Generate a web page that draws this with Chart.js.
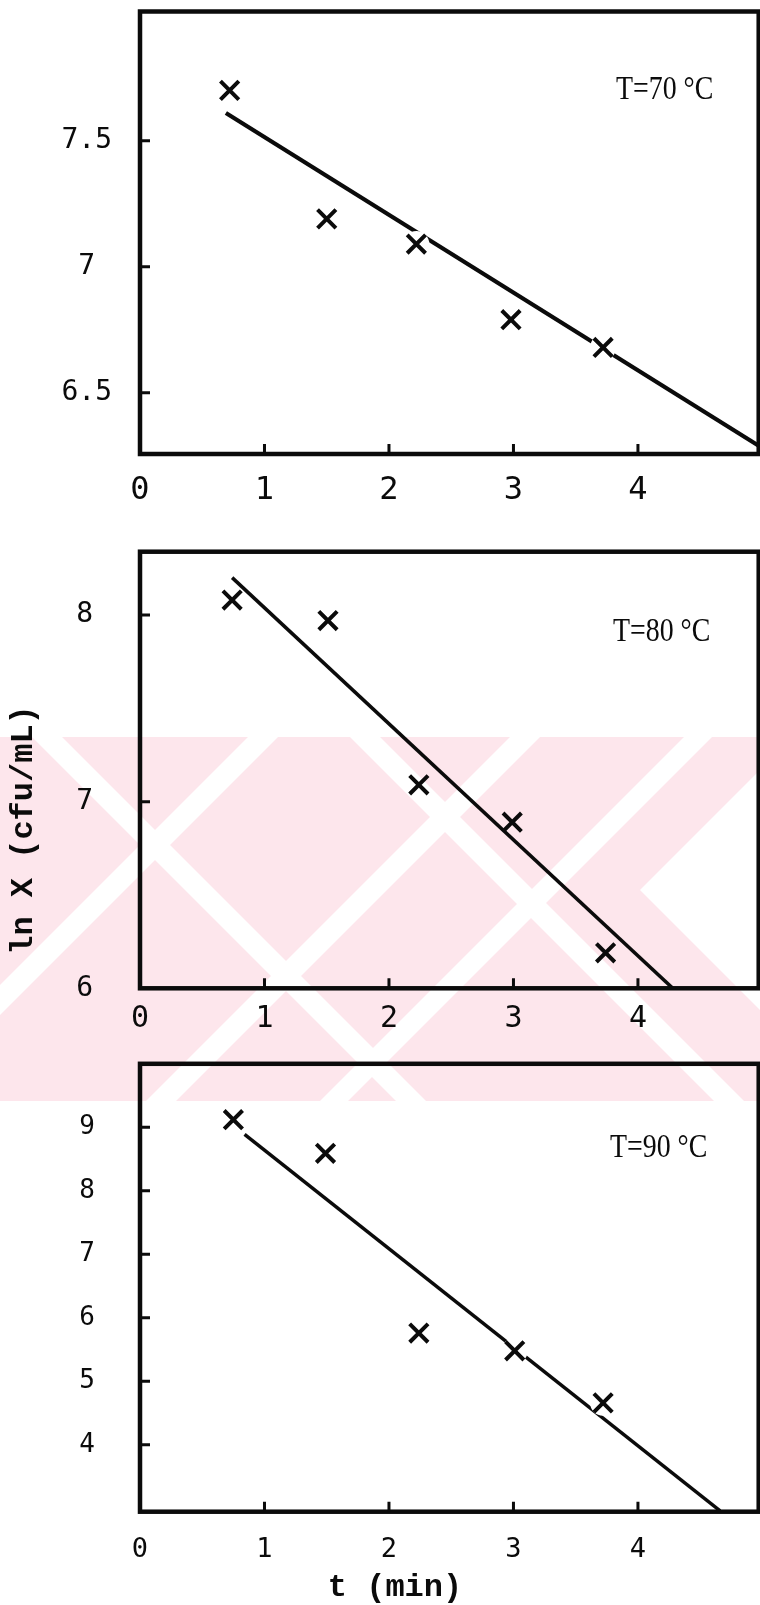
<!DOCTYPE html>
<html>
<head>
<meta charset="utf-8">
<script src="https://cdn.jsdelivr.net/npm/chart.js@4.4.0/dist/chart.umd.min.js"></script>
<style>
    html, body { margin: 0; padding: 0; background: #fff; }
    #page { position: relative; width: 760px; height: 1605px; overflow: hidden; }
    #page canvas { position: absolute; left: 0; }
</style>
</head>
<body>
<div id="page">
    <canvas id="filigrane" width="760" height="1605" style="top:0"></canvas>
    <canvas id="graph70" width="760" height="520" style="top:0"></canvas>
    <canvas id="graph80" width="760" height="520" style="top:520px"></canvas>
    <canvas id="graph90" width="760" height="565" style="top:1040px"></canvas>
</div>
<script>
// temps de traitement (min) et ln X (cfu/mL) mesurés
const T_70 = [0.72, 1.50, 2.22, 2.98, 3.72];
const LNX_70 = [7.70, 7.19, 7.09, 6.79, 6.68];
const T_80 = [0.74, 1.51, 2.24, 2.99, 3.74];
const LNX_80 = [8.08, 7.97, 7.09, 6.89, 6.19];
const T_90 = [0.75, 1.49, 2.24, 3.01, 3.72];
const LNX_90 = [9.12, 8.59, 5.76, 5.48, 4.66];

// droites ajustées (extrémités)
const DROITE_T_70 = [0.69, 4.97];
const DROITE_LNX_70 = [7.61, 6.29];
const DROITE_T_80 = [0.74, 4.28];
const DROITE_LNX_80 = [8.20, 6.00];
const DROITE_T_90 = [0.84, 4.66];
const DROITE_LNX_90 = [8.89, 2.96];

// points où la droite est interrompue autour de la croix (indices)
const COUPURES_70 = [2, 4];
const COUPURES_80 = [];
const COUPURES_90 = [3, 4];

// graduations
const TICKS_T = [0, 1, 2, 3, 4];
const TICKS_70 = [6.5, 7, 7.5];
const TICKS_80 = [6, 7, 8];
const TICKS_90 = [4, 5, 6, 7, 8, 9];

const LABEL_70 = 'T=70 °C';
const LABEL_80 = 'T=80 °C';
const LABEL_90 = 'T=90 °C';
const TITRE_Y = 'ln X (cfu/mL)';
const TITRE_X = 't (min)';

const ENCRE = '#0b0b0b';
const MONO = '"DejaVu Sans Mono", "Liberation Mono", monospace';

function points(xs, ys) {
    return xs.map((x, i) => ({x: x, y: ys[i]}));
}

// pas de marge automatique autour des axes : la zone du graphe est fixée à la main
function sansMarge(s) {
    s.paddingTop = 0;
    s.paddingBottom = 0;
    s.paddingLeft = 0;
    s.paddingRight = 0;
}

// cadre noir + petites graduations vers l'intérieur + textes
const cadre = {
    id: 'cadre',
    afterDatasetsDraw(chart, args, opts) {
        const ctx = chart.ctx;
        const a = chart.chartArea;
        const sx = chart.scales.x;
        const sy = chart.scales.y;
        ctx.save();
        ctx.strokeStyle = ENCRE;
        ctx.lineWidth = 4.5;
        ctx.strokeRect(a.left, a.top, a.right - a.left, a.bottom - a.top);

        ctx.lineWidth = 3;
        ctx.beginPath();
        for (const t of sx.ticks) {
            if (t.value <= sx.min) continue;
            const px = sx.getPixelForValue(t.value);
            ctx.moveTo(px, a.bottom);
            ctx.lineTo(px, a.bottom - 10);
        }
        for (const t of sy.ticks) {
            if (t.value <= sy.min) continue;
            const py = sy.getPixelForValue(t.value);
            ctx.moveTo(a.left, py);
            ctx.lineTo(a.left + 10, py);
        }
        ctx.stroke();

        // étiquette de température, police serrée
        ctx.fillStyle = ENCRE;
        ctx.font = '34px "Liberation Serif", "DejaVu Serif", serif';
        ctx.textBaseline = 'alphabetic';
        ctx.textAlign = 'left';
        ctx.save();
        ctx.translate(opts.lx, a.top + opts.ly);
        ctx.scale(0.82, 1);
        ctx.fillText(opts.label, 0, 0);
        ctx.restore();

        for (const t of (opts.textes || [])) {
            ctx.save();
            ctx.font = 'bold 32px "Liberation Mono", "DejaVu Sans Mono", monospace';
            ctx.textAlign = 'center';
            ctx.textBaseline = 'middle';
            ctx.translate(t.x, t.y);
            ctx.rotate(t.rot || 0);
            ctx.fillText(t.texte, 0, 0);
            ctx.restore();
        }
        ctx.restore();
    }
};

function loadPanel(id, p) {
    const ctx = document.getElementById(id).getContext('2d');
    const coupes = p.coupures.map(i => ({x: p.t[i], y: p.lnx[i]}));
    return new Chart(ctx, {
        type: 'scatter',
        data: {
            datasets: [{
                label: 'mesures',
                data: points(p.t, p.lnx),
                pointStyle: 'crossRot',
                pointRadius: 13,
                pointBorderWidth: 4,
                pointBorderColor: ENCRE,
                borderColor: ENCRE,
                showLine: false,
                order: 1
            }, {
                // pastille blanche qui coupe la droite sous la croix
                label: 'coupure',
                data: coupes,
                pointStyle: 'circle',
                pointRadius: 13,
                pointBorderWidth: 0,
                pointBackgroundColor: '#ffffff',
                showLine: false,
                order: 2
            }, {
                label: 'droite',
                data: points(p.dt, p.dlnx),
                showLine: true,
                borderColor: ENCRE,
                borderWidth: p.epaisseur,
                pointRadius: 0,
                order: 3
            }]
        },
        options: {
            responsive: false,
            animation: false,
            layout: {autoPadding: false, padding: {top: p.haut, right: 1.3, left: 0, bottom: 0}},
            plugins: {
                legend: {display: false},
                tooltip: {enabled: false},
                cadre: {label: p.label, lx: p.lx, ly: p.ly, textes: p.textes}
            },
            scales: {
                x: {
                    type: 'linear',
                    min: 0,
                    max: 4.97,
                    grid: {display: false, drawTicks: false},
                    border: {display: false},
                    afterBuildTicks: s => { s.ticks = TICKS_T.map(v => ({value: v})); },
                    afterFit: s => { s.height = p.basAxe; sansMarge(s); },
                    ticks: {
                        color: ENCRE,
                        font: {family: MONO, size: p.policeX},
                        padding: p.padX,
                        autoSkip: false,
                        maxRotation: 0,
                        callback: v => String(v)
                    }
                },
                y: {
                    type: 'linear',
                    min: p.ymin,
                    max: p.ymax,
                    grid: {display: false, drawTicks: false},
                    border: {display: false},
                    afterBuildTicks: s => { s.ticks = p.ticks.map(v => ({value: v})); },
                    afterFit: s => { s.width = 140; sansMarge(s); },
                    ticks: {
                        color: ENCRE,
                        font: {family: MONO, size: p.policeY},
                        padding: p.padY,
                        crossAlign: 'center',
                        autoSkip: false,
                        callback: v => String(v)
                    }
                }
            }
        },
        plugins: [cadre]
    });
}

// filigrane rose en fond
function dessinerFiligrane() {
    const ctx = document.getElementById('filigrane').getContext('2d');
    const haut = 737, bas = 1101;
    ctx.fillStyle = '#fde6ec';
    ctx.fillRect(0, haut, 760, bas - haut);
    ctx.save();
    ctx.beginPath();
    ctx.rect(0, haut, 760, bas - haut);
    ctx.clip();
    ctx.fillStyle = '#ffffff';
    // bandes montantes « / » : x + y = c
    for (const [c, w] of [[1000, 15], [1262, 15], [1435, 14]]) {
        ctx.beginPath();
        ctx.moveTo(c - w - haut, haut);
        ctx.lineTo(c + w - haut, haut);
        ctx.lineTo(c + w - bas, bas);
        ctx.lineTo(c - w - bas, bas);
        ctx.fill();
    }
    // bandes descendantes « \ » : x - y = d
    for (const [d, w] of [[-690, 15], [-372, 15]]) {
        ctx.beginPath();
        ctx.moveTo(d - w + haut, haut);
        ctx.lineTo(d + w + haut, haut);
        ctx.lineTo(d + w + bas, bas);
        ctx.lineTo(d - w + bas, bas);
        ctx.fill();
    }
    // coin blanc à droite
    ctx.beginPath();
    ctx.moveTo(640, 890);
    ctx.lineTo(800, 730);
    ctx.lineTo(800, 1050);
    ctx.closePath();
    ctx.fill();
    ctx.restore();
}

dessinerFiligrane();

loadPanel('graph70', {
    t: T_70, lnx: LNX_70, dt: DROITE_T_70, dlnx: DROITE_LNX_70, epaisseur: 4.2,
    coupures: COUPURES_70,
    ymin: 6.257, ymax: 8.013, ticks: TICKS_70, haut: 11.5, basAxe: 66,
    policeX: 32, padX: 17, policeY: 28, padY: 28,
    label: LABEL_70, lx: 616, ly: 87
});

loadPanel('graph80', {
    t: T_80, lnx: LNX_80, dt: DROITE_T_80, dlnx: DROITE_LNX_80, epaisseur: 3.5,
    coupures: COUPURES_80,
    ymin: 6, ymax: 8.339, ticks: TICKS_80, haut: 31.7, basAxe: 51.7,
    policeX: 30, padX: 13, policeY: 28, padY: 47,
    label: LABEL_80, lx: 613, ly: 89,
    textes: [{texte: TITRE_Y, x: 24, y: 310, rot: -Math.PI / 2}]
});

loadPanel('graph90', {
    t: T_90, lnx: LNX_90, dt: DROITE_T_90, dlnx: DROITE_LNX_90, epaisseur: 3.5,
    coupures: COUPURES_90,
    ymin: 2.946, ymax: 10, ticks: TICKS_90, haut: 23.8, basAxe: 93.3,
    policeX: 27, padX: 22, policeY: 26, padY: 45,
    label: LABEL_90, lx: 610, ly: 93,
    textes: [{texte: TITRE_X, x: 395, y: 548}]
});
</script>
</body>
</html>
